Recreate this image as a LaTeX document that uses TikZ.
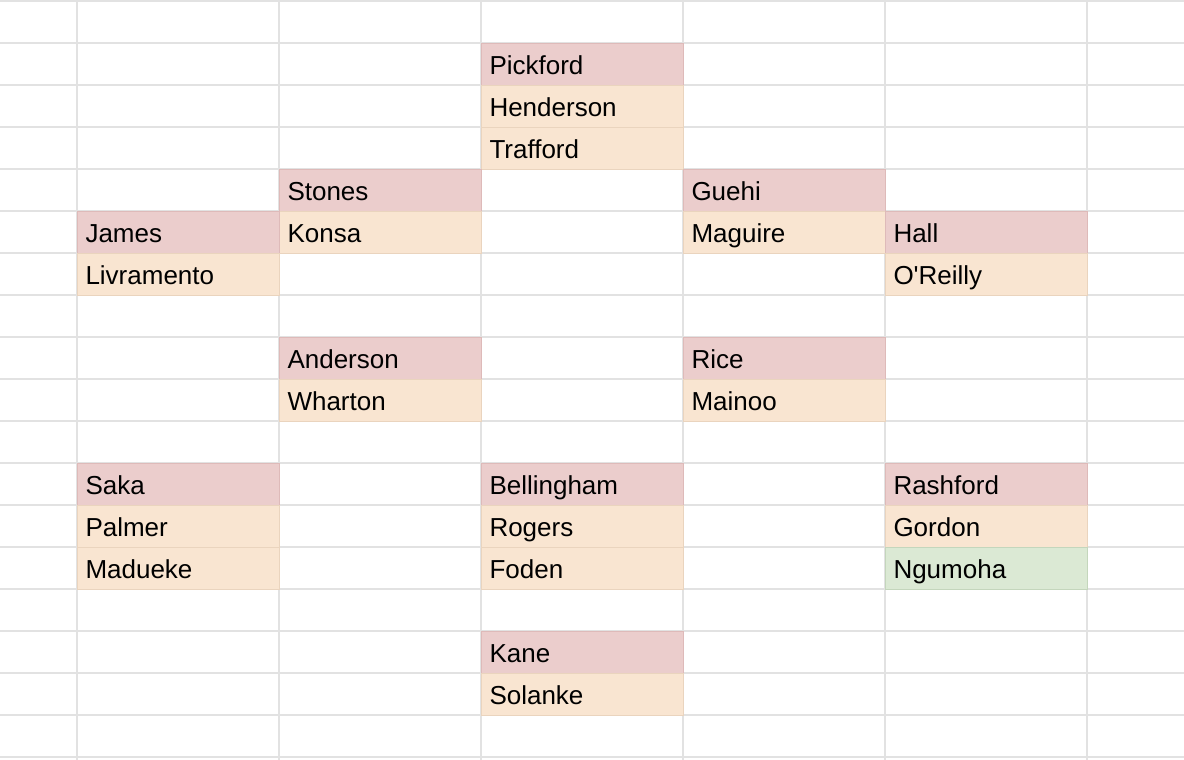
\documentclass[tikz,border=0pt]{standalone}
\usepackage{fontspec}
\setmainfont{Liberation Sans}

\definecolor{gridgray}{RGB}{226,226,226}
\definecolor{redfill}{RGB}{235,205,204}
\definecolor{redline}{RGB}{222,186,185}
\definecolor{orangefill}{RGB}{249,229,209}
\definecolor{orangeline}{RGB}{234,212,190}
\definecolor{greenfill}{RGB}{219,233,212}
\definecolor{greenline}{RGB}{196,214,188}

\tikzset{
  cell/.style={rectangle, anchor=north west, minimum width=101pt, minimum height=21pt,
    text width=93pt, inner xsep=4pt, inner ysep=0pt, text height=9.5pt, text depth=0pt,
    align=left, font=\fontsize{13pt}{15pt}\selectfont, line width=0.5pt},
  first/.style={cell, fill=redfill, draw=redline},
  backup/.style={cell, fill=orangefill, draw=orangeline},
  newcap/.style={cell, fill=greenfill, draw=greenline}
}

\begin{document}
\begin{tikzpicture}[x=0.5pt,y=-0.5pt]
\useasboundingbox[fill=white] (0,0) rectangle (1184,760);

% Draw grid
\foreach \r in {0,...,18} {
    \draw[gridgray, line width=1pt] (0,1+42*\r) -- (1184,1+42*\r);
}
\foreach \c in {0,...,5} {
    \draw[gridgray, line width=1pt] (77+202*\c,0) -- (77+202*\c,760);
}

% Draw players (column/row/style/name/text)
\foreach \c/\r/\s/\n/\t in {
    2/1/first/pickford/Pickford, 2/2/backup/henderson/Henderson, 2/3/backup/trafford/Trafford,
    1/4/first/stones/Stones, 1/5/backup/konsa/Konsa,
    3/4/first/guehi/Guehi, 3/5/backup/maguire/Maguire,
    0/5/first/james/James, 0/6/backup/livramento/Livramento,
    4/5/first/hall/Hall, 4/6/backup/oreilly/O\textquotesingle Reilly,
    1/8/first/anderson/Anderson, 1/9/backup/wharton/Wharton,
    3/8/first/rice/Rice, 3/9/backup/mainoo/Mainoo,
    0/11/first/saka/Saka, 0/12/backup/palmer/Palmer, 0/13/backup/madueke/Madueke,
    2/11/first/bellingham/Bellingham, 2/12/backup/rogers/Rogers, 2/13/backup/foden/Foden,
    4/11/first/rashford/Rashford, 4/12/backup/gordon/Gordon, 4/13/newcap/ngumoha/Ngumoha,
    2/15/first/kane/Kane, 2/16/backup/solanke/Solanke} {
    \node[\s] (\n) at ({77+202*\c},{1+42*\r}) {\t};
}

\end{tikzpicture}
\end{document}
